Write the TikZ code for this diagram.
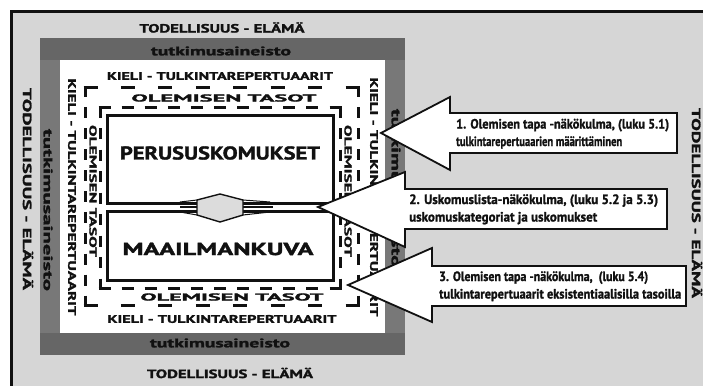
\documentclass[tikz,border=0pt]{standalone}
\usepackage{fontspec}
\setmainfont{PT Sans}
\newfontfamily\heavyfont{PT Sans}[BoldFeatures={FakeBold=1.6}]
\newfontfamily\notefont{PT Sans}[BoldFeatures={FakeBold=1.4}]
\usepackage{graphicx}

% heavy label of a given size, stretched to a given width
\newcommand\fitlabel[3]{{\heavyfont\fontsize{#1pt}{#1pt}\selectfont\bfseries\resizebox{#2pt}{\height}{#3}}}
% callout line of a given size, fitted to a given width
\newcommand\noteline[2]{{\notefont\fontsize{13.5pt}{13.5pt}\selectfont\bfseries\resizebox{#1pt}{\height}{#2}}}

% one dashed side whose dashes fill it evenly, starting and ending with a dash
\newcommand\dashside[5]{%
  \pgfmathsetmacro\dsn{max(2,round((#3+#5)/(#4+#5)))}%
  \pgfmathsetmacro\dsg{(#3-\dsn*#4)/(\dsn-1)}%
  \draw[dashline, dash pattern=on #4pt off \dsg pt] #1 -- #2;}

% dashed frame: x1 y1 x2 y2, horizontal dash/gap, vertical dash/gap
\newcommand\dashframe[8]{%
  \pgfmathsetmacro\dfw{#3-#1+3}\pgfmathsetmacro\dfh{#4-#2+3}%
  \dashside{(#1-1.5,#2)}{(#3+1.5,#2)}{\dfw}{#5}{#6}%
  \dashside{(#1-1.5,#4)}{(#3+1.5,#4)}{\dfw}{#5}{#6}%
  \dashside{(#1,#2-1.5)}{(#1,#4+1.5)}{\dfh}{#7}{#8}%
  \dashside{(#3,#2-1.5)}{(#3,#4+1.5)}{\dfh}{#7}{#8}}

\definecolor{paper}{HTML}{D6D6D6}
\definecolor{bandtop}{HTML}{666666}
\definecolor{bandside}{HTML}{787878}
\definecolor{ink}{HTML}{111111}
\definecolor{hexfill}{HTML}{DCDCDC}

\begin{document}
\begin{tikzpicture}[x=1pt,y=-1pt,
  lbl/.style={inner sep=0pt, text=ink, anchor=center},
  vlbl/.style={lbl, rotate=-90},
  dashline/.style={draw=ink, line width=3pt, line cap=butt},
  box/.style={draw=ink, line width=3pt, fill=white},
  callout/.style={draw=ink, line width=1.8pt, fill=white, line join=miter},
  atext/.style={inner sep=0pt, anchor=base west, text=ink},
]
\useasboundingbox (0,0) rectangle (703,385);
\clip (0,0) rectangle (703,385);
\fill[white] (0,0) rectangle (703,385);

% outer field: reality - life
\draw[draw=ink, line width=3pt, fill=paper] (11.5,11.5) rectangle (760,440);

% research material band
\fill[bandtop] (40,38) rectangle (405,355);
\fill[bandside] (40,60) rectangle (385,333);
\fill[bandside] (385,60) rectangle (405,333);
\fill[white] (60,60) rectangle (385,333);

% dashed frames: language / levels of being
\dashframe{85}{88}{358}{305}{14}{24}{11}{11}
\dashframe{100}{108}{340}{288}{12}{11}{11}{11}

% the two core boxes
\draw[box] (107,115) rectangle (333,203);
\draw[box] (107,211) rectangle (333,280);

% link between the core boxes
\draw[ink, line width=1.4pt] (180,207) -- (197,207) (243,207) -- (273,207);
\draw[ink, line width=1pt] (180,202) -- (197,200) (243,200) -- (270,202);
\draw[ink, line width=1pt] (180,212) -- (197,215) (243,215) -- (270,212);
\draw[draw=ink, line width=1.4pt, fill=hexfill, line join=miter]
  (197,200) -- (220,194) -- (243,200) -- (243,215) -- (220,222) -- (197,215) -- cycle;

% labels of the outer field
\node[lbl] (realT) at (222,27.5) {\fitlabel{12}{165}{TODELLISUUS - ELÄMÄ}};
\node[lbl] (realB) at (230,373) {\fitlabel{12}{166}{TODELLISUUS - ELÄMÄ}};
\node[vlbl] (realL) at (28,189) {\fitlabel{12}{202}{TODELLISUUS - ELÄMÄ}};
\node[vlbl] (realR) at (697,203) {\fitlabel{12}{190}{TODELLISUUS - ELÄMÄ}};

% labels of the material band
\node[lbl] (matT) at (221,51) {\fitlabel{12.5}{140}{tutkimusaineisto}};
\node[lbl] (matB) at (220,343) {\fitlabel{12.5}{140}{tutkimusaineisto}};
\node[vlbl] (matL) at (48,210) {\fitlabel{12.5}{162}{tutkimusaineisto}};
\node[vlbl] (matR) at (396,188) {\fitlabel{12.5}{158}{tutkimusaineisto}};

% labels of the language frame
\node[lbl] (langT) at (220,76) {\fitlabel{11}{226}{KIELI - TULKINTAREPERTUAARIT}};
\node[lbl] (langB) at (222,319) {\fitlabel{11}{229}{KIELI - TULKINTAREPERTUAARIT}};
\node[vlbl] (langL) at (72,197) {\fitlabel{11}{237}{KIELI - TULKINTAREPERTUAARIT}};
\node[vlbl] (langR) at (374,197) {\fitlabel{11}{239}{KIELI - TULKINTAREPERTUAARIT}};

% labels of the levels frame
\node[lbl] (lvlT) at (224,98) {\fitlabel{10}{185}{OLEMISEN TASOT}};
\node[lbl] (lvlB) at (232,297) {\fitlabel{10}{183}{OLEMISEN TASOT}};
\node[vlbl] (lvlL) at (93,191) {\fitlabel{10}{132}{OLEMISEN TASOT}};
\node[vlbl] (lvlR) at (348,191) {\fitlabel{10}{132}{OLEMISEN TASOT}};

% core box labels
\node[lbl] (basic) at (220,153) {\fitlabel{18.5}{200}{PERUSUSKOMUKSET}};
\node[lbl] (world) at (218,249) {\fitlabel{17.5}{191}{MAAILMANKUVA}};

% perspective callouts
\draw[callout] (381,133) -- (450,97) -- (450,113) -- (677,113) -- (677,153)
  -- (450,153) -- (450,170) -- cycle;
\draw[callout] (318,207) -- (405,172) -- (405,189) -- (667,189) -- (667,229)
  -- (405,229) -- (405,247) -- cycle;
\draw[callout] (348,285) -- (432,248) -- (432,266) -- (686,266) -- (686,306)
  -- (432,306) -- (432,322) -- cycle;

\node[atext] (p1a) at (456,128.5) {\noteline{213}{1. Olemisen tapa -näkökulma, (luku 5.1)}};
\node[atext] (p1b) at (456,146) {\noteline{166}{tulkintarepertuaarien määrittäminen}};
\node[atext] (p2a) at (409,204) {\noteline{249}{2. Uskomuslista-näkökulma, (luku 5.2 ja 5.3)}};
\node[atext] (p2b) at (409,221.5) {\noteline{188}{uskomuskategoriat ja uskomukset}};
\node[atext] (p3a) at (439,281) {\noteline{209}{3. Olemisen tapa -näkökulma,\ \ (luku 5.4)}};
\node[atext] (p3b) at (439,298.5) {\noteline{242}{tulkintarepertuaarit eksistentiaalisilla tasoilla}};
\end{tikzpicture}
\end{document}
